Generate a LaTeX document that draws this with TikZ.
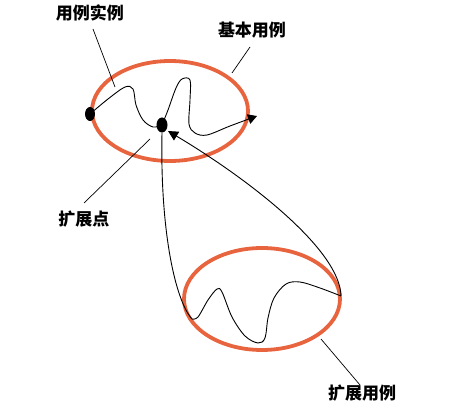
\documentclass[tikz,border=0pt]{standalone}
\usepackage{fontspec}
\newfontfamily\cjk{Noto Sans CJK SC}
\usetikzlibrary{shapes.geometric,arrows.meta}
\definecolor{ucorange}{RGB}{232,100,62}
\begin{document}
\begin{tikzpicture}[x=1pt,y=-1pt,
  usecase/.style={draw=ucorange, line width=3.8pt, ellipse, inner sep=0pt},
  dot/.style={fill=black, ellipse, inner sep=0pt},
  flow/.style={line width=0.9pt, black},
  pointer/.style={line width=0.7pt, black},
  lbl/.style={font=\cjk\bfseries\fontsize{17}{17}\selectfont, inner sep=0pt}]
\useasboundingbox (0,0) rectangle (459,409);
% use cases
\node[usecase, minimum width=156pt, minimum height=100pt] (base) at (170,111) {};
\node[usecase, minimum width=156pt, minimum height=102pt] (ext) at (262,299) {};
% labels
\node[lbl] (l1) at (90,13) {用例实例};
\node[lbl] (l2) at (252,30) {基本用例};
\node[lbl] (l3) at (84,219) {扩展点};
\node[lbl] (l4) at (362,393) {扩展用例};
% pointer lines
\coordinate (l1a) at (93,29);  \coordinate (l1b) at (115,87);
\coordinate (l2a) at (250,47); \coordinate (l2b) at (232,73);
\coordinate (l3a) at (84,203); \coordinate (l3b) at (150,139);
\coordinate (l4a) at (360,385); \coordinate (l4b) at (321,339);
\draw[pointer] (l1a) -- (l1b);
\draw[pointer] (l2a) -- (l2b);
\draw[pointer] (l3a) -- (l3b);
\draw[pointer] (l4a) -- (l4b);
% points
\node[dot, minimum width=10pt, minimum height=14pt] (start) at (90,114) {};
\node[dot, minimum width=11pt, minimum height=15pt] (xp) at (162,125) {};
\coordinate (endpt) at (257,116);
\coordinate (back) at (168,131);
\coordinate (bl) at (192,319);
\coordinate (br) at (341,296);
% basic flow
\draw[flow] plot[smooth, tension=0.55] coordinates {(start.center) (108,99) (125,87) (133,89) (136,105) (143,120) (153,127) (xp.center)};
\draw[flow, -{Triangle[length=9pt,width=10pt]}] plot[smooth, tension=0.55] coordinates {(xp.center) (168,110) (176,88) (182,79) (190,80) (190,100) (189,124) (195,133) (207,135) (230,126) (257,116)};
% extension flow
\draw[flow] (xp.south) .. controls (160,230) and (175,300) .. (bl);
\draw[flow] plot[smooth, tension=0.55] coordinates {(bl) (198,317) (208,300) (217,289) (222,292) (232,317) (245,336) (258,343) (265,338) (268,318) (274,298) (286,284) (300,282) (320,288) (br)};
\draw[flow, -{Triangle[length=10pt,width=10pt]}] (br) .. controls (340,250) and (250,180) .. (back);
\end{tikzpicture}
\end{document}
